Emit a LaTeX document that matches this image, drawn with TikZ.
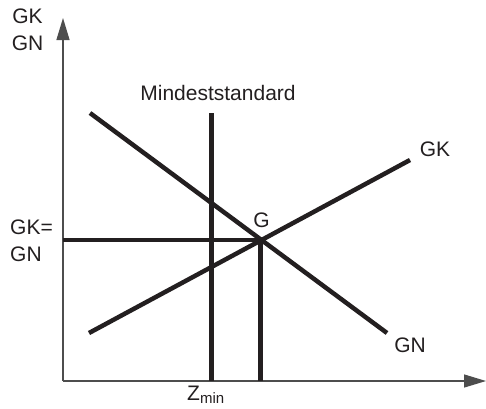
\documentclass[tikz,border=0pt]{standalone}
\usepackage{fontspec}
\setmainfont{Liberation Sans}
\usetikzlibrary{arrows.meta}
\definecolor{ink}{HTML}{231F20}
\definecolor{axisgray}{HTML}{4D4D4D}
\begin{document}
\begin{tikzpicture}[x=1pt,y=-1pt,
  thickline/.style={line width=4.5pt, draw=ink},
  axisline/.style={line width=1.3pt, draw=axisgray, -{Triangle[length=22pt,width=13pt]}},
  lbl/.style={font=\fontsize{21}{27}\selectfont, text=ink, inner sep=0pt}]
\useasboundingbox (0,0) rectangle (486,408);
% coordinates
\coordinate (O) at (63,381);
\coordinate (ytip) at (63,18);
\coordinate (xtip) at (486,381);
\coordinate (G) at (260.5,240);
\coordinate (gkA) at (89,333);
\coordinate (gkB) at (410,160);
\coordinate (gnA) at (90,113);
\coordinate (gnB) at (387,333);
\coordinate (msTop) at (211.5,113);
\coordinate (msBot) at (211.5,381);
\coordinate (hL) at (63,240);
\coordinate (vB) at (260.5,381);
% axes
\draw[axisline] (O) -- (ytip);
\draw[axisline] (O) -- (xtip);
% lines
\draw[thickline] (gkA) -- (gkB);
\draw[thickline] (gnA) -- (gnB);
\draw[thickline] (msTop) -- (msBot);
\draw[thickline] (hL) -- (G);
\draw[thickline] (G) -- (vB);
% labels
\node[lbl, align=center] (yl) at (27.5,30) {GK\\GN};
\node[lbl, align=left, anchor=west] (eq) at (10,240.5) {GK=\\GN};
\node[lbl] (ms) at (218,93) {Mindeststandard};
\node[lbl] (gkl) at (435,149.5) {GK};
\node[lbl] (gnl) at (410,345.5) {GN};
\node[lbl] (gl) at (261.5,220.5) {G};
\node[lbl, anchor=base west] (zl) at (187,400) {Z\textsubscript{\fontsize{15}{18}\selectfont min}};
\end{tikzpicture}
\end{document}
